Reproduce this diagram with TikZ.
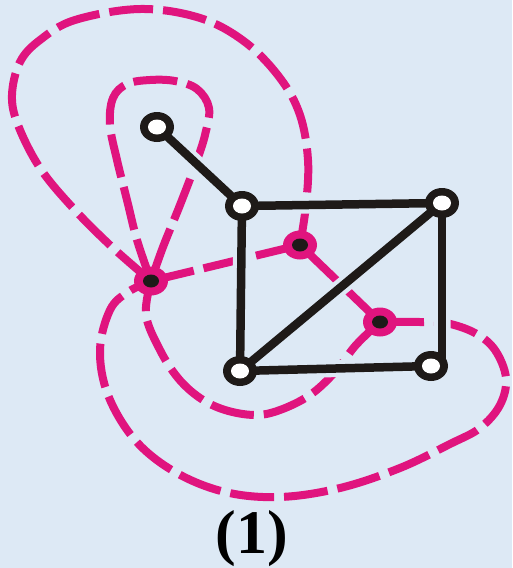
\documentclass[tikz,border=0pt]{standalone}
\usepackage{fontspec}
\setmainfont{Liberation Serif}
\usetikzlibrary{shapes.geometric}
\definecolor{bgc}{RGB}{221,233,245}
\definecolor{mag}{RGB}{224,20,126}
\definecolor{blk}{RGB}{30,26,24}
\pgfdeclarelayer{back}
\pgfdeclarelayer{mid}
\pgfsetlayers{back,mid,main}
\begin{document}
\begin{tikzpicture}[x=1pt,y=-1pt,
 vtx/.style={ellipse, fill=blk, minimum width=34pt, minimum height=30pt, inner sep=0pt,
   path picture={\fill[white] (path picture bounding box.center) ellipse (9pt and 7.5pt);}},
 dvtx/.style={ellipse, fill=mag, minimum width=34pt, minimum height=29pt, inner sep=0pt,
   path picture={\fill[blk] (path picture bounding box.center) ellipse (8pt and 6.5pt);}},
 gedge/.style={draw=blk, line width=8.5pt},
 halo/.style={draw=bgc, line width=17pt},
 dedge/.style={draw=mag, line width=8pt},
 dashd/.style={dedge, dash pattern=on 44pt off 10pt},
]
\begin{pgfonlayer}{back}
\fill[bgc] (0,0) rectangle (512,568);
\end{pgfonlayer}
\useasboundingbox (0,0) rectangle (512,568);

% primal vertices
\node[vtx] (p) at (157,127) {};
\node[vtx] (a) at (242,206) {};
\node[vtx] (b) at (442,203) {};
\node[vtx] (c) at (240,371) {};
\node[vtx] (d) at (431,366) {};
% dual vertices
\node[dvtx] (o) at (151,281) {};
\node[dvtx] (u) at (300,245) {};
\node[dvtx] (l) at (380,322) {};

\node[font=\bfseries\fontsize{62}{64}\selectfont, anchor=base] (lab) at (252,553) {(1)};

\begin{pgfonlayer}{mid}
% dual edges
\draw[dashd] plot[smooth, tension=0.6] coordinates {(o.center) (112,247) (73,208) (40,168) (18,125) (12,95) (20,62) (40,40) (75,20) (140,9) (200,18) (245,42) (280,78) (300,115) (308,160) (306,205) (u.center)};
\draw[dashd] plot[smooth, tension=0.6] coordinates {(o.center) (137,240) (127,200) (117,160) (110,125) (113,98) (127,84) (150,80) (175,81) (197,89) (209,108) (205,135) (196,163) (180,205) (163,247) (o.center)};
\draw[dashd] (o.center) -- (u.center);
\draw[dedge] (u.center) -- (l.center);
\draw[dashd] plot[smooth, tension=0.6] coordinates {(l.center) (420,322) (446,323) (475,333) (495,350) (506,378) (500,405) (480,428) (450,444) (400,468) (340,488) (280,497) (225,492) (175,472) (135,440) (108,395) (100,350) (110,310) (128,292) (o.center)};
\draw[dashd] plot[smooth, tension=0.6] coordinates {(l.center) (356,345) (335,372) (310,395) (280,410) (255,415) (225,410) (200,398) (178,378) (160,350) (146,315) (o.center)};
% halos
\draw[halo] (p.center) -- (a.center);
\draw[halo] (a.center) -- (b.center) -- (b.center |- d.center) -- (c.center) -- cycle;
\draw[halo] (c.center) -- (b.center);
% primal edges
\draw[gedge] (p.center) -- (a.center);
\draw[gedge] (a.center) -- (b.center);
\draw[gedge] (b.center) -- (b.center |- d.center);
\draw[gedge] (d.center) -- (c.center);
\draw[gedge] (c.center) -- (a.center);
\draw[gedge] (c.center) -- (b.center);
\end{pgfonlayer}
\end{tikzpicture}
\end{document}
